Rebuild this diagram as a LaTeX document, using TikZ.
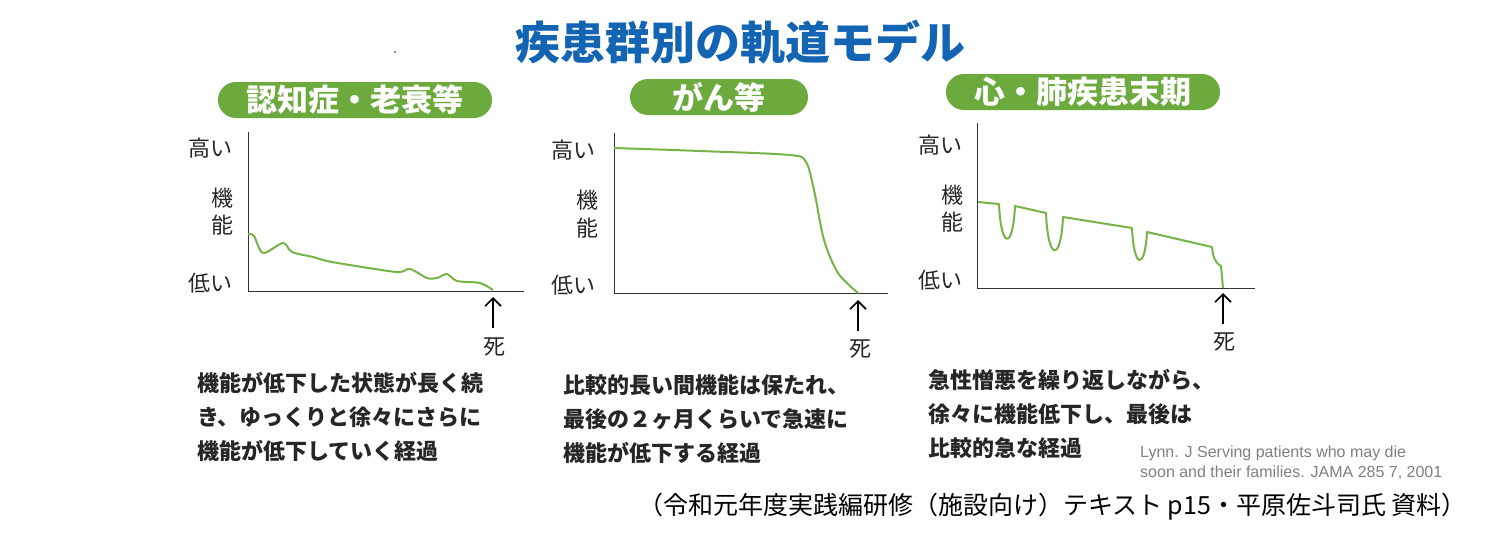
\documentclass[tikz,border=0pt]{standalone}
\usepackage{fontspec}
\usetikzlibrary{arrows.meta}
\setmainfont{Noto Sans CJK JP}
\setsansfont{Liberation Sans}
\begin{document}
\begin{tikzpicture}[x=1pt,y=-1pt,
  pill/.style={fill=pillg,rounded corners=18pt,text=white,font=\fontsize{31}{31}\selectfont\bfseries,minimum height=36pt,inner sep=0pt},
  axis/.style={draw=black!80,line width=1pt},
  curve/.style={draw=curveg,line width=2pt,line join=round},
  lab/.style={font=\fontsize{22}{22}\selectfont,text=black!85,inner sep=0pt},
  desc/.style={font=\fontsize{22}{34}\selectfont\bfseries,text=black!85,anchor=north west,align=left,inner sep=0pt},
  arr/.style={draw=black,line width=1.6pt,-{Straight Barb[length=8pt,width=16pt]}}]
\definecolor{pillg}{RGB}{108,170,62}
\definecolor{curveg}{RGB}{118,180,72}
\definecolor{titleb}{RGB}{20,100,180}
\useasboundingbox (0,0) rectangle (1496,541);
\fill[white] (0,0) rectangle (1496,541);
\node[font=\fontsize{45}{45}\selectfont\bfseries,text=titleb] (title) at (740,42) {疾患群別の軌道モデル};
\fill[titleb] (395,52) circle (1);
% panel 1
\node[pill,minimum width=274pt] (p1) at (355,100) {認知症・老衰等};
\draw[axis] (248,132) -- (248,291) -- (524,291);
\node[lab] (h1) at (210,148) {高い};
\node[lab] (k1) at (222,198) {機};
\node[lab] (n1) at (222,225) {能};
\node[lab] (l1) at (210,283) {低い};
\draw[curve] plot[smooth,tension=0.5] coordinates {(248,234) (254,236) (263,253) (283,243) (292,252) (313,257) (327,261) (350,265) (397,272) (410,269) (427,278) (437,278) (447,274) (457,281) (480,283) (493,290)};
\coordinate (a1s) at (493,328);
\coordinate (a1e) at (493,297);
\draw[arr] (a1s) -- (a1e);
\node[lab] (d1) at (494,347) {死};
\node[desc] (t1) at (197,372) {機能が低下した状態が長く続\\き、ゆっくりと徐々にさらに\\機能が低下していく経過};
% panel 2
\node[pill,minimum width=178pt] (p2) at (719,97) {がん等};
\draw[axis] (614,133) -- (614,293) -- (888,293);
\node[lab] (h2) at (573,150) {高い};
\node[lab] (k2) at (587,200) {機};
\node[lab] (n2) at (587,228) {能};
\node[lab] (l2) at (573,285) {低い};
\draw[curve] plot[smooth,tension=0.5] coordinates {(614,148) (700,151) (790,155) (806,162) (814,190) (824,240) (838,273) (858,293)};
\coordinate (a2s) at (858,331);
\coordinate (a2e) at (858,300);
\draw[arr] (a2s) -- (a2e);
\node[lab] (d2) at (860,349) {死};
\node[desc] (t2) at (563,374) {比較的長い間機能は保たれ、\\最後の２ヶ月くらいで急速に\\機能が低下する経過};
% panel 3
\node[pill,minimum width=274pt] (p3) at (1083,92) {心・肺疾患末期};
\draw[axis] (977,123) -- (977,288) -- (1255,288);
\node[lab] (h3) at (940,145) {高い};
\node[lab] (k3) at (952,195) {機};
\node[lab] (n3) at (952,222) {能};
\node[lab] (l3) at (940,280) {低い};
\draw[curve] (978,202) -- (999,204) .. controls (1001,250) and (1013,250) .. (1015,206) -- (1046,213) .. controls (1048,262) and (1061,262) .. (1063,217) -- (1132,228) .. controls (1134,270) and (1145,270) .. (1147,232) -- (1212,247) .. controls (1213,256) and (1214,262) .. (1221,266) -- (1223,288);
\coordinate (a3s) at (1223,324);
\coordinate (a3e) at (1223,293);
\draw[arr] (a3s) -- (a3e);
\node[lab] (d3) at (1224,342) {死};
\node[desc] (t3) at (928,369) {急性憎悪を繰り返しながら、\\徐々に機能低下し、最後は\\比較的急な経過};
\node[font=\sffamily\fontsize{16}{20}\selectfont,text=black!50,anchor=north west,align=left,inner sep=0pt] (cite) at (1140,446) {Lynn. J Serving patients who may die\\soon and their families. JAMA 285 7, 2001};
\node[font=\fontsize{25}{25}\selectfont,anchor=east,inner sep=0pt] (src) at (1467,507) {（令和元年度実践編研修（施設向け）テキスト p15・平原佐斗司氏 資料）};
\end{tikzpicture}
\end{document}
